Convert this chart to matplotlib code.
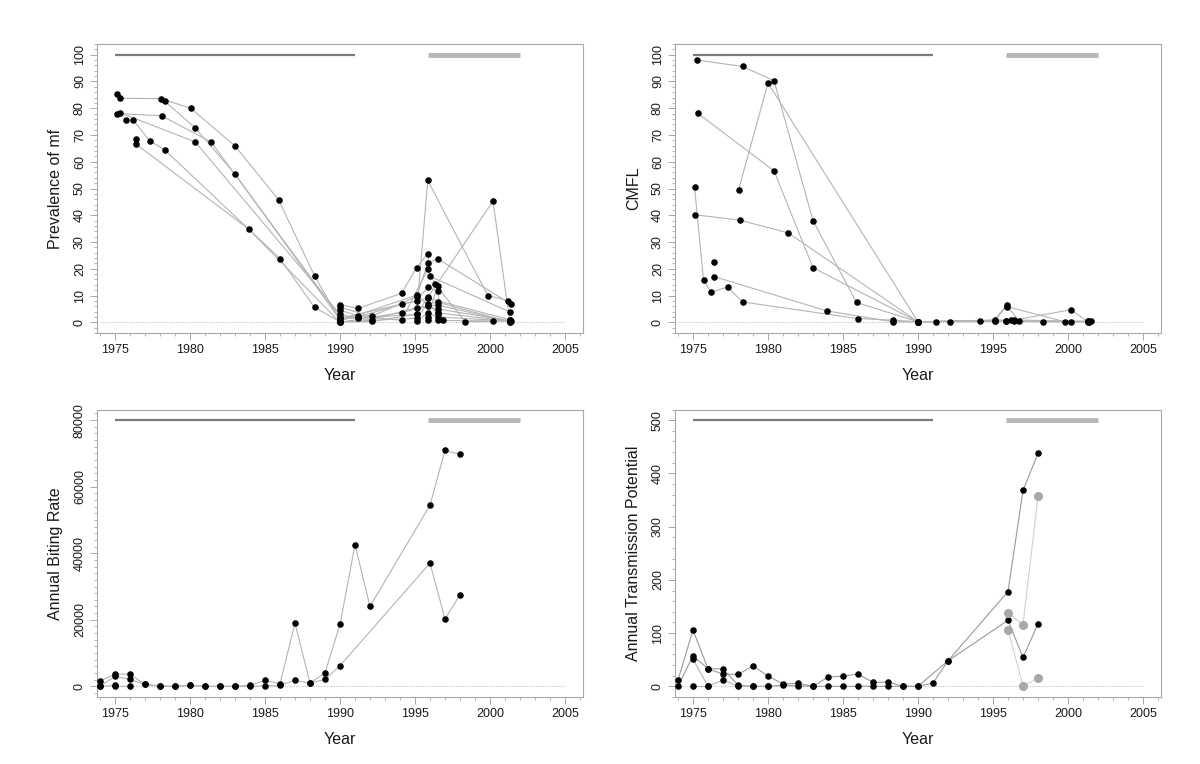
import matplotlib
matplotlib.use("Agg")
import matplotlib.pyplot as plt
from matplotlib.ticker import MultipleLocator

plt.rcParams['font.family'] = ['Liberation Sans', 'DejaVu Sans']

# ---------------- Panel 1: Prevalence of mf (village trajectories) -------------
mf_v1_year = [1975.1, 1975.3, 1978.05, 1980.05, 1983.0, 1985.9, 1988.3, 1990.0, 1995.1, 1996.5, 2001.3]
mf_v1_val = [85.4, 83.7, 83.6, 80.0, 65.9, 45.8, 17.4, 0.5, 10.1, 3.5, 0.5]
mf_v2_year = [1978.3, 1980.35, 1983.0, 1990.0, 1991.2, 1994.1, 1995.85, 2001.3]
mf_v2_val = [82.7, 72.6, 55.4, 1.0, 2.0, 6.7, 9.0, 1.0]
mf_v3_year = [1975.1, 1978.1, 1981.4, 1990.0, 1992.1, 1995.1, 1996.5, 2001.3]
mf_v3_val = [78.0, 77.2, 67.4, 2.0, 1.0, 5.5, 6.5, 0.2]
mf_v4_year = [1975.3, 1980.35, 1990.0, 1991.2, 1995.1, 1995.85, 1999.85, 2001.2]
mf_v4_val = [78.4, 67.4, 3.0, 1.5, 3.0, 53.0, 10.0, 8.1]
mf_v5_year = [1976.2, 1977.3, 1978.3, 1986.0, 1988.3, 1990.0, 1992.1, 1995.1, 2000.2, 2001.3]
mf_v5_val = [75.7, 67.9, 64.5, 23.8, 5.6, 0.2, 0.3, 3.0, 45.3, 1.0]
mf_v6_year = [1976.4, 1983.9, 1990.0, 1994.1, 1995.85, 1996.5, 2001.4]
mf_v6_val = [66.6, 34.9, 0.0, 3.6, 6.0, 5.0, 0.5]
mf_v7_year = [1990.0, 1991.2, 1994.1, 1995.1, 1995.85, 1996.0, 2001.3]
mf_v7_val = [6.6, 5.2, 10.8, 20.4, 25.7, 17.2, 3.9]
mf_v8_year = [1990.0, 1992.1, 1995.1, 1995.85, 1996.5, 2001.4]
mf_v8_val = [5.6, 2.2, 9.6, 22.0, 23.8, 6.8]
mf_v9_year = [1990.0, 1991.2, 1994.1, 1995.85, 1996.35, 1998.35, 2001.3]
mf_v9_val = [4.5, 2.5, 0.7, 19.8, 14.2, 0.2, 0.5]
mf_v10_year = [1990.0, 1995.1, 1995.85, 1996.5, 1996.85, 2000.2]
mf_v10_val = [1.5, 8.0, 13.2, 11.6, 0.7, 0.5]
mf_v11_year = [1990.0, 1995.1, 1995.85, 1996.5, 2001.3]
mf_v11_val = [0.2, 1.5, 7.0, 7.5, 0.2]
mf_v12_year = [1995.1, 1995.85, 1996.5, 2001.3]
mf_v12_val = [0.5, 3.5, 2.0, 0.5]
mf_v13_year = [1995.85, 1996.5]
mf_v13_val = [2.0, 13.5]
mf_single_year = [1975.7, 1976.4, 1995.85, 1995.85, 1996.5, 1996.5]
mf_single_val = [75.5, 68.5, 9.5, 0.7, 3.5, 1.0]

mf_series = [
    (mf_v1_year, mf_v1_val), (mf_v2_year, mf_v2_val), (mf_v3_year, mf_v3_val),
    (mf_v4_year, mf_v4_val), (mf_v5_year, mf_v5_val), (mf_v6_year, mf_v6_val),
    (mf_v7_year, mf_v7_val), (mf_v8_year, mf_v8_val), (mf_v9_year, mf_v9_val),
    (mf_v10_year, mf_v10_val), (mf_v11_year, mf_v11_val), (mf_v12_year, mf_v12_val),
    (mf_v13_year, mf_v13_val),
]

# ---------------- Panel 2: CMFL -------------------------------------------------
cm_v1_year = [1975.29, 1978.3, 1980.4, 1983.0, 1985.9, 1990.0, 1991.2, 1992.1, 1994.1, 1995.1, 1995.85, 1996.4, 1998.3, 2001.3]
cm_v1_val = [98.0, 95.6, 90.3, 38.0, 7.4, 0.2, 0.2, 0.2, 0.3, 0.4, 0.5, 0.4, 0.2, 0.2]
cm_v2_year = [1978.04, 1980.0, 1990.0, 1995.1, 1995.9, 1999.8, 2001.4]
cm_v2_val = [49.6, 89.4, 0.2, 0.5, 5.9, 0.2, 0.2]
cm_v3_year = [1975.3, 1980.4, 1983.0, 1990.0, 1995.1, 1995.9, 1996.75, 2001.3]
cm_v3_val = [78.2, 56.6, 20.4, 0.2, 0.8, 6.5, 0.3, 0.4]
cm_v4_year = [1975.1, 1975.7, 1976.2, 1977.3, 1978.3, 1986.0, 1988.3, 1990.0, 1996.4, 2000.2, 2001.3]
cm_v4_val = [50.7, 15.9, 11.2, 13.2, 7.6, 1.4, 0.8, 0.2, 0.8, 4.7, 0.3]
cm_v5_year = [1975.1, 1978.1, 1981.35, 1990.0, 1995.85, 2000.2]
cm_v5_val = [40.2, 38.2, 33.4, 0.2, 0.6, 0.2]
cm_v6_year = [1976.4, 1983.9, 1988.3, 1990.0, 1996.2, 2001.5]
cm_v6_val = [17.1, 4.3, 0.2, 0.2, 0.9, 0.3]
cm_single_year = [1976.4]
cm_single_val = [22.6]

cm_series = [
    (cm_v1_year, cm_v1_val), (cm_v2_year, cm_v2_val), (cm_v3_year, cm_v3_val),
    (cm_v4_year, cm_v4_val), (cm_v5_year, cm_v5_val), (cm_v6_year, cm_v6_val),
]

# ---------------- Panel 3: Annual Biting Rate -----------------------------------
abr_a_year = [1974, 1975, 1976, 1977, 1978, 1979, 1980, 1981, 1982, 1983, 1984, 1985, 1986, 1987, 1988, 1989, 1990, 1991, 1992, 1996, 1997, 1998]
abr_a_val = [1620, 3660, 3660, 600, 100, 0, 300, 0, 0, 0, 300, 1800, 800, 19000, 1000, 4070, 18600, 42550, 24030, 54450, 70930, 69710]
abr_b_year = [1974, 1975, 1976, 1977, 1978, 1979, 1980, 1981, 1982, 1983, 1984, 1985, 1986, 1987, 1988, 1989, 1990, 1996, 1997, 1998]
abr_b_val = [0, 3050, 2060, 600, 100, 0, 300, 0, 0, 0, 0, 100, 300, 1800, 1000, 2060, 6200, 37040, 20240, 27570]
abr_c_year = [1974, 1975, 1975, 1976]
abr_c_val = [0, 300, 0, 0]

# ---------------- Panel 4: Annual Transmission Potential ------------------------
atp_a_year = [1974, 1975, 1976, 1977, 1978, 1979, 1980, 1981, 1982, 1983, 1984, 1985, 1986, 1987, 1988, 1989, 1990, 1991, 1992, 1996, 1997, 1998]
atp_a_val = [12, 105.6, 33, 23, 22.5, 38.6, 19.3, 4.5, 5.6, 0, 17.4, 19.3, 23, 7.5, 8, 0, 0, 6.3, 48, 178, 368, 437.5]
atp_b_year = [1974, 1975, 1976, 1977, 1978, 1979, 1980, 1981, 1982, 1983, 1984, 1985, 1986, 1987, 1988, 1989, 1990, 1992, 1996, 1997, 1998]
atp_b_val = [0, 57.4, 33, 33, 2, 0, 0, 2, 1, 0, 0, 0, 0, 0, 0, 0, 0, 48, 124, 54.4, 117.4]
atp_c_year = [1975, 1976, 1977, 1978, 1979, 1980]
atp_c_val = [51.2, 0, 12, 0, 0, 0]
atp_d_year = [1975, 1976]
atp_d_val = [0, 0]
atp_g1_year = [1996, 1997, 1998]
atp_g1_val = [138, 116, 357]
atp_g2_year = [1996, 1997, 1998]
atp_g2_val = [106, 1, 15]

# ---------------- Period bars ---------------------------------------------------
period1 = (1975.0, 1991.0)
period2 = (1995.87, 2002.0)

year_ticks = [1975, 1980, 1985, 1990, 1995, 2000, 2005]

LINE = '#b4b4b4'
DOT = 'black'
FRAME = '#a8a8a8'
TXT = '#1a1a1a'
MS = 3.7

fig = plt.figure(figsize=(12, 7.64), dpi=100)
W, H = 1200, 764

def make_ax(left, top, right, bottom):
    return fig.add_axes([left / W, 1 - bottom / H, (right - left) / W, (bottom - top) / H])

ax1 = make_ax(97, 44, 583, 333)
ax2 = make_ax(675, 44, 1161, 333)
ax3 = make_ax(97, 409.5, 583, 697)
ax4 = make_ax(675, 409.5, 1161, 697)

def style(ax, ylim, ymajor, yminor, ylabel, bar_y):
    ax.set_xlim(1973.8, 2006.2)
    ax.set_ylim(*ylim)
    ax.set_xticks(year_ticks)
    ax.xaxis.set_minor_locator(MultipleLocator(1))
    ax.yaxis.set_major_locator(MultipleLocator(ymajor))
    ax.yaxis.set_minor_locator(MultipleLocator(yminor))
    for s in ax.spines.values():
        s.set_color(FRAME)
        s.set_linewidth(0.8)
    ax.tick_params(which='major', length=5, width=0.7, color=FRAME, labelsize=9,
                   labelcolor=TXT, pad=3)
    ax.tick_params(which='minor', length=2.5, width=0.6, color=FRAME)
    for lab in ax.get_yticklabels():
        lab.set_rotation(90)
        lab.set_va('center')
    ax.set_ylabel(ylabel, fontsize=11.5, color=TXT)
    ax.set_xlabel('Year', fontsize=11.5, color=TXT)
    ax.xaxis.set_label_coords(0.5, -0.12)
    ax.xaxis.label.set_va('top')
    ax.yaxis.set_label_coords(-0.07, 0.5)
    # baseline
    ax.plot([1974, 2005], [0, 0], color='#c8c8c8', lw=0.8, ls=(0, (1, 1)), zorder=1)
    # period bars
    ax.plot(period1, [bar_y, bar_y], color='#7a7a7a', lw=1.6, solid_capstyle='butt', zorder=2)
    ax.plot(period2, [bar_y, bar_y], color='#b8b8b8', lw=3.5, solid_capstyle='butt', zorder=2)

def draw(ax, xs, ys, color=LINE, dot=DOT, ms=MS, lw=0.8):
    ax.plot(xs, ys, color=color, lw=lw, zorder=3)
    ax.plot(xs, ys, ls='none', marker='o', ms=ms, color=dot, mec=dot, zorder=4)

style(ax1, (-4, 104), 10, 2, 'Prevalence of mf', 100)
for xs, ys in mf_series:
    draw(ax1, xs, ys)
ax1.plot(mf_single_year, mf_single_val, ls='none', marker='o', ms=MS, color=DOT, zorder=4)

style(ax2, (-4, 104), 10, 2, 'CMFL', 100)
for xs, ys in cm_series:
    draw(ax2, xs, ys)
ax2.plot(cm_single_year, cm_single_val, ls='none', marker='o', ms=MS, color=DOT, zorder=4)

style(ax3, (-3200, 83200), 20000, 2000, 'Annual Biting Rate', 80000)
draw(ax3, abr_a_year, abr_a_val)
draw(ax3, abr_b_year, abr_b_val)
draw(ax3, abr_c_year, abr_c_val)

style(ax4, (-20, 520), 100, 20, 'Annual Transmission Potential', 500)
draw(ax4, atp_a_year, atp_a_val, color='#9a9a9a')
draw(ax4, atp_b_year, atp_b_val, color='#9a9a9a')
draw(ax4, atp_c_year, atp_c_val)
draw(ax4, atp_d_year, atp_d_val)
draw(ax4, atp_g1_year, atp_g1_val, color='#d0d0d0', dot='#a8a8a8', ms=5.5)
draw(ax4, atp_g2_year, atp_g2_val, color='#d0d0d0', dot='#a8a8a8', ms=5.5)

fig.savefig('out.png', dpi=100, facecolor='white')
